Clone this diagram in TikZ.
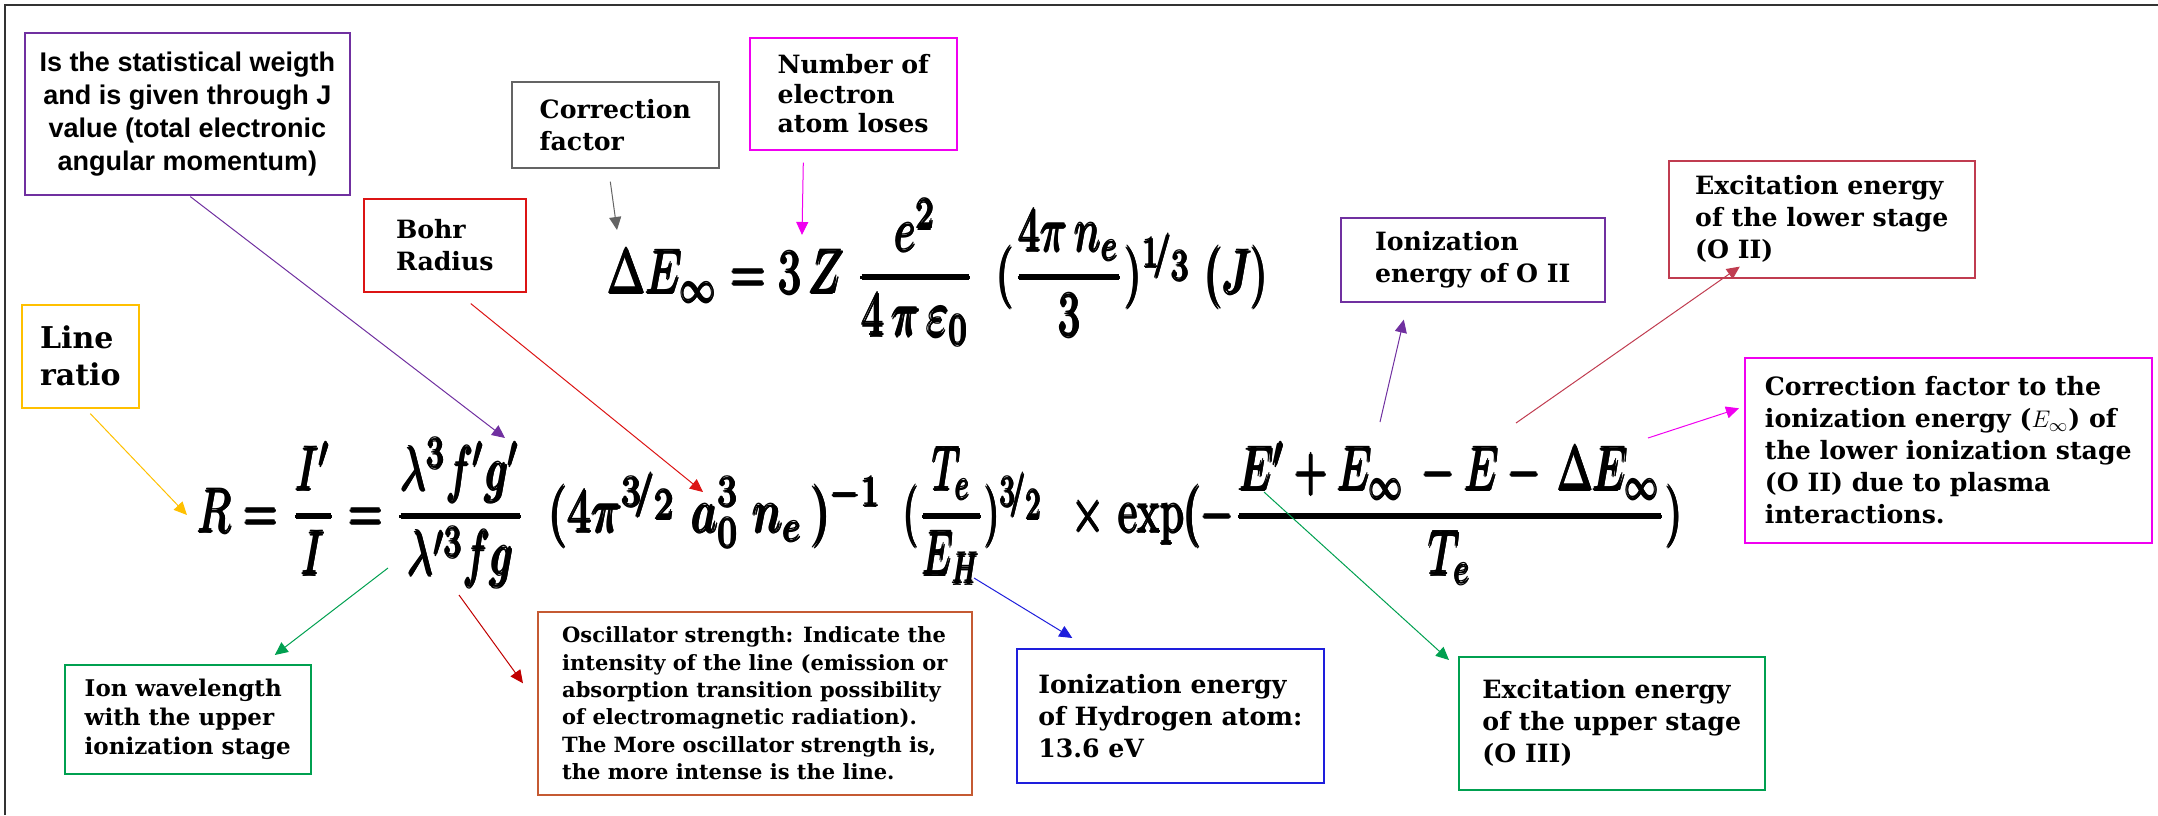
\documentclass[tikz,border=0pt]{standalone}
\usepackage[no-math]{fontspec}
\usepackage{graphicx}
\usetikzlibrary{arrows.meta, calc}

\newfontfamily\slabfont{DejaVu Serif}
\newfontfamily\boxsans{Liberation Sans}

% overprinted copies for heavy formula strokes
\newcommand\thickmath[1]{\rlap{#1}\rlap{\kern0.5pt#1}\rlap{\kern0.25pt\raisebox{0.3pt}{#1}}\rlap{\kern0.25pt\raisebox{-0.25pt}{#1}}\kern0.5pt#1}

\definecolor{statpurple}{RGB}{112,48,160}
\definecolor{corrgray}{RGB}{100,100,100}
\definecolor{boxmagenta}{RGB}{240,0,240}
\definecolor{bohrred}{RGB}{220,20,20}
\definecolor{ratiogold}{RGB}{255,192,0}
\definecolor{wlgreen}{RGB}{0,160,80}
\definecolor{oscbrown}{RGB}{197,90,50}
\definecolor{oscred}{RGB}{192,0,0}
\definecolor{hydblue}{RGB}{30,30,220}
\definecolor{lowrose}{RGB}{192,60,80}

\begin{document}
\begin{tikzpicture}[
    x=0.5pt, y=-0.5pt,
    note/.style={draw, line width=0.8pt, anchor=north west, align=left, inner sep=0pt,
                 font=\slabfont\bfseries\fontsize{12.6}{16}\selectfont},
    pointer/.style={-{Triangle[length=6.5pt, width=6pt]}, line width=0.5pt},
    formula/.style={anchor=base west, inner sep=0pt, font=\fontsize{10}{12}\selectfont},
]
  \useasboundingbox (0,0) rectangle (2158,815);
  \draw[line width=1pt, black!80] (5,815) -- (5,5) -- (2158,5);

  % the two equations
  \node[formula] (dEinf) at (606,293)
    {\resizebox{184.5pt}{3.1\height}{\thickmath{$\displaystyle \Delta E_{\infty} = 3\,Z\;\frac{e^{2}}{4\,\pi\,\varepsilon_{0}}$}}};
  \node[formula] (dEcorr) at (995,293)
    {\resizebox{136.5pt}{3.1\height}{\thickmath{$\displaystyle (\frac{4\pi\, n_{e}}{3})^{1\!/_{\scriptstyle 3}}\; (J)$}}};

  \node[formula] (lhs) at (196,532)
    {\resizebox{165pt}{3.1\height}{\thickmath{$\displaystyle R = \frac{I'}{I} = \frac{\lambda^{3}f'g'}{\lambda'^{3}fg}$}}};
  \node[formula] (prefac) at (547,532)
    {\resizebox{168pt}{3.1\height}{\thickmath{$\displaystyle (4\pi^{3\!/_{\scriptstyle 2}}\; a_{0}^{3}\; n_{e}\,)^{-1}$}}};
  \node[formula] (temp) at (902,532)
    {\resizebox{71.5pt}{3.1\height}{\thickmath{$\displaystyle (\frac{T_{e}}{E_{H}})^{3\!/_{\scriptstyle 2}}$}}};
  \node[formula] (boltz) at (1070,532)
    {\resizebox{306.5pt}{3.1\height}{\thickmath{$\displaystyle \times\,\exp(-\frac{E'+E_{\infty}\,-E-\,\Delta E_{\infty}}{T_{e}})$}}};

  % points on the equations
  \coordinate (deltaE) at (617,230);
  \coordinate (zee) at (802,235);
  \coordinate (Rlhs) at (187,515);
  \coordinate (gprime) at (505,438);
  \coordinate (azero) at (703,492);
  \coordinate (lamprime) at (388,568);
  \coordinate (fg) at (459,595);
  \coordinate (EH) at (974,578);
  \coordinate (Eprime) at (1264,492);
  \coordinate (Einf) at (1380,422);
  \coordinate (Eminus) at (1516,423);
  \coordinate (dEend) at (1648,438);

  % labels
  \node[note, draw=statpurple, align=center, font=\boxsans\bfseries\fontsize{13.5}{16.5}\selectfont,
        minimum width=162.5pt, minimum height=81pt] (stat) at (24,32)
    {Is the statistical weigth\\and is given through J\\value (total electronic\\angular momentum)};
  \node[note, draw=corrgray, minimum width=103.5pt, minimum height=43pt] (corr) at (511,81)
    {Correction\\factor};
  \node[note, draw=boxmagenta, minimum width=103.5pt, minimum height=56pt,
        font=\slabfont\bfseries\fontsize{12.6}{14.75}\selectfont] (nume) at (749,37)
    {Number of\\electron\\atom loses};
  \node[note, draw=bohrred, minimum width=81pt, minimum height=46.5pt] (bohr) at (363,198)
    {Bohr\\Radius};
  \node[note, draw=ratiogold, minimum width=58.5pt, minimum height=51.5pt,
        font=\slabfont\bfseries\fontsize{15}{18.5}\selectfont] (ratio) at (21,304)
    {Line\\ratio};
  \node[note, draw=wlgreen, minimum width=123pt, minimum height=54.5pt,
        font=\slabfont\bfseries\fontsize{11.5}{14.5}\selectfont] (ionwl) at (64,664)
    {Ion wavelength\\with the upper\\ionization stage};
  \node[note, draw=oscbrown, minimum width=217pt, minimum height=91.5pt,
        font=\slabfont\bfseries\fontsize{10.5}{13.7}\selectfont] (osc) at (537,611)
    {Oscillator strength: Indicate the\\intensity of the line (emission or\\absorption transition possibility\\of electromagnetic radiation).\\The More oscillator strength is,\\the more intense is the line.};
  \node[note, draw=hydblue, minimum width=153.5pt, minimum height=67pt] (hyd) at (1016,648)
    {Ionization energy\\of Hydrogen atom:\\13.6 eV};
  \node[note, draw=wlgreen, minimum width=153pt, minimum height=66.5pt] (excup) at (1458,656)
    {Excitation energy\\of the upper stage\\(O III)};
  \node[note, draw=statpurple, minimum width=132pt, minimum height=42pt] (ionO) at (1340,217)
    {Ionization\\energy of O II};
  \node[note, draw=lowrose, minimum width=153pt, minimum height=58.5pt] (exclow) at (1668,160)
    {Excitation energy\\of the lower stage\\(O II)};
  \node[note, draw=boxmagenta, minimum width=203.5pt, minimum height=92.5pt] (corrlow) at (1744,357)
    {Correction factor to the\\ionization energy ($E_{\infty}$) of\\the lower ionization stage\\(O II) due to plasma\\interactions.};

  % pointers
  \draw[pointer, corrgray] ($(corr.south)+(-5,13)$) -- (deltaE);
  \draw[pointer, boxmagenta] ($(nume.south)+(-50,12)$) -- (zee);
  \draw[pointer, ratiogold] ($(ratio.south)+(10,5)$) -- (Rlhs);
  \draw[pointer, statpurple] ($(stat.south)+(3,1)$) -- (gprime);
  \draw[pointer, bohrred] ($(bohr.south)+(26,11)$) -- (azero);
  \draw[pointer, wlgreen] (lamprime) -- ($(ionwl.north)+(87,-9)$);
  \draw[pointer, oscred] (fg) -- ($(osc.west)+(-14,-20)$);
  \draw[pointer, hydblue] (EH) -- ($(hyd.north)+(-98,-10)$);
  \draw[pointer, wlgreen] (Eprime) -- ($(excup.north west)+(-9,4)$);
  \draw[pointer, statpurple] (Einf) -- ($(ionO.south)+(-69,17)$);
  \draw[pointer, lowrose] (Eminus) -- ($(exclow.south)+(-82,-12)$);
  \draw[pointer, boxmagenta] (dEend) -- ($(corrlow.west)+(-5,-42)$);
\end{tikzpicture}
\end{document}
